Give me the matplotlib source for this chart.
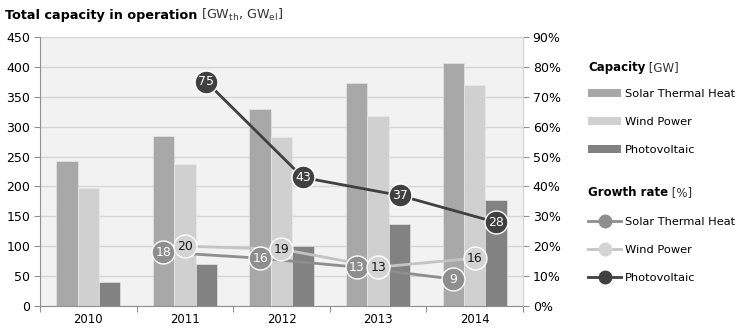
import numpy as np
import matplotlib
matplotlib.use('Agg')
import matplotlib.pyplot as plt
from matplotlib.ticker import PercentFormatter, MultipleLocator
from matplotlib.patches import Patch
from matplotlib.lines import Line2D

years       = ['2010', '2011', '2012', '2013', '2014']
series      = ['Solar Thermal Heat', 'Wind Power', 'Photovoltaic']
capacity    = {'Solar Thermal Heat': [242, 284, 329, 373, 406],
               'Wind Power':         [198, 238, 283, 318, 370],
               'Photovoltaic':       [40, 70, 100, 138, 177]}
growth_years = [1, 2, 3, 4]
growth      = {'Solar Thermal Heat': [18, 16, 13, 9],
               'Wind Power':         [20, 19, 13, 16],
               'Photovoltaic':       [75, 43, 37, 28]}

bar_col   = {'Solar Thermal Heat': '#a8a8a8', 'Wind Power': '#d0d0d0', 'Photovoltaic': '#828282'}
line_col  = {'Solar Thermal Heat': '#8e8e8e', 'Wind Power': '#c4c4c4', 'Photovoltaic': '#404040'}
dot_col   = {'Solar Thermal Heat': '#8e8e8e', 'Wind Power': '#d4d4d4', 'Photovoltaic': '#404040'}
txt_col   = {'Solar Thermal Heat': 'white', 'Wind Power': '#1a1a1a', 'Photovoltaic': 'white'}

plt.rcParams['font.family'] = ['DejaVu Sans']
fs = 8.2

fig = plt.figure(figsize=(7.37, 3.30), dpi=100)
ax = fig.add_axes([40/737., 24/330., 483/737., 269/330.])
ax.set_facecolor('#f2f2f2')

x = np.arange(len(years))
w = 0.222
offs = {'Solar Thermal Heat': -w, 'Wind Power': 0., 'Photovoltaic': w}

######## bars ########
for s in series:
	ax.bar(x+offs[s], capacity[s], width=w, color=bar_col[s], edgecolor='#ececec', linewidth=0.4, zorder=2)

ax.set_ylim(0, 450)
ax.set_xlim(-0.5, len(years)-0.5)
ax.yaxis.set_major_locator(MultipleLocator(50))
ax.grid(axis='y', color='#d6d6d6', lw=1.0, zorder=0)
ax.set_axisbelow(True)
ax.set_xticks(np.arange(-0.5, len(years)), minor=False)
ax.set_xticklabels([])
ax.set_xticks(x, minor=True)
ax.set_xticklabels(years, minor=True)
ax.tick_params(axis='x', which='major', direction='out', length=4, color='#909090')
ax.tick_params(axis='x', which='minor', length=0, labelsize=fs+0.2, pad=5)
ax.tick_params(axis='y', direction='out', length=4, color='#909090', labelsize=fs+0.8, pad=3)
ax.spines['top'].set_visible(False)
ax.spines['right'].set_color('#d6d6d6')
ax.spines['left'].set_color('#909090')
ax.spines['bottom'].set_color('#909090')

######## growth rate lines ########
ax2 = ax.twinx()
ax2.set_ylim(0, 90)
ax2.yaxis.set_major_locator(MultipleLocator(10))
ax2.yaxis.set_major_formatter(PercentFormatter(decimals=0))
ax2.tick_params(axis='y', direction='out', length=4, color='#909090', labelsize=fs+0.8, pad=3)
for sp in ['top', 'left', 'bottom']: ax2.spines[sp].set_visible(False)
ax2.spines['right'].set_color('#d6d6d6')

for s in series:
	gx = np.array(growth_years)+offs[s]
	ax2.plot(gx, growth[s], color=line_col[s], lw=2, zorder=3)
	ax2.plot(gx, growth[s], 'o', ms=16.5, mfc=dot_col[s], mec='white', mew=1.0, zorder=4)
	for xx, yy in zip(gx, growth[s]):
		ax2.text(xx, yy, str(yy), color=txt_col[s], ha='center', va='center', fontsize=fs+0.8, zorder=5)

######## headers: bold part followed by a regular part on the same baseline ########
renderer = fig.canvas.get_renderer()
def header(xp, yp, bold, rest, size):
	t = fig.text(xp, yp, bold, fontsize=size, fontweight='bold', va='baseline')
	x1 = fig.transFigure.inverted().transform((t.get_window_extent(renderer).x1, 0))[0]
	fig.text(x1, yp, rest, fontsize=size, va='baseline', color='#333333')

header(5/737., 1-19/330., 'Total capacity in operation', r' [GW$_\mathregular{th}$, GW$_\mathregular{el}$]', fs+1)
header(588/737., 1-71/330., 'Capacity', ' [GW]', fs+0.3)
header(588/737., 1-196/330., 'Growth rate', ' [%]', fs+0.3)

######## legend ########
bar_handles  = [Patch(facecolor=bar_col[s], edgecolor='none') for s in series]
line_handles = [Line2D([], [], color=line_col[s], lw=2, marker='o', ms=9, mfc=dot_col[s], mec=dot_col[s]) for s in series]

leg_kw = dict(frameon=False, fontsize=fs, loc='upper left', borderpad=0, borderaxespad=0,
	handlelength=2.9, handletextpad=0.35, labelspacing=1.6, bbox_transform=fig.transFigure)
ax.legend(bar_handles, series, bbox_to_anchor=(588/737., 1-89/330.), handleheight=0.7, **leg_kw)
ax2.legend(line_handles, series, bbox_to_anchor=(588/737., 1-217/330.), **leg_kw)

fig.savefig('out.png', dpi=100)
